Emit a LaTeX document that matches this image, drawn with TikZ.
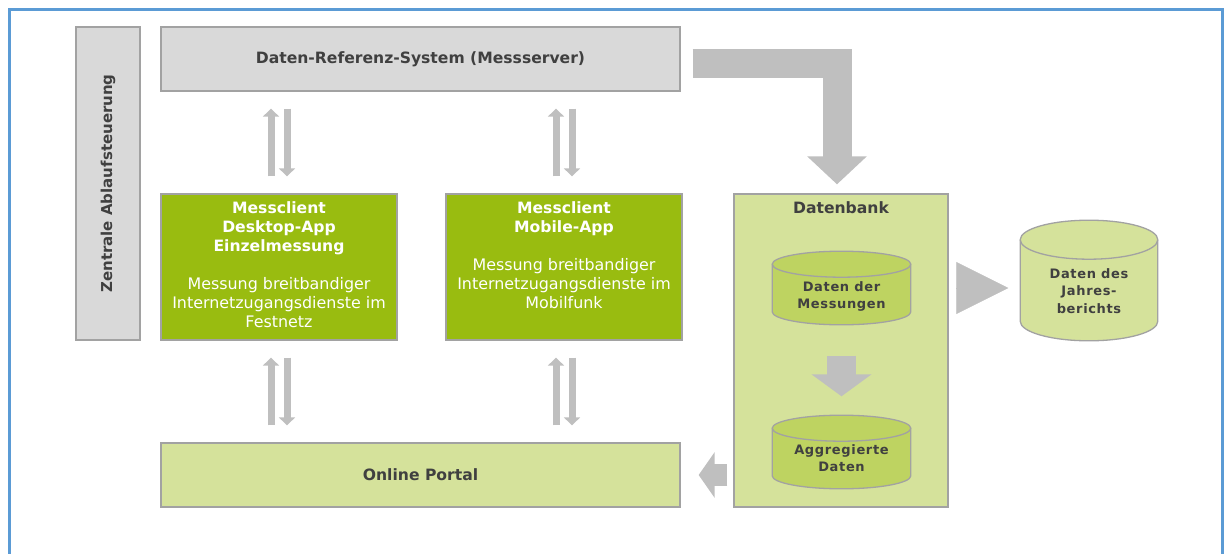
\documentclass[tikz,border=0pt]{standalone}
\usepackage{fontspec}
\setmainfont{DejaVu Sans}
\usetikzlibrary{positioning,arrows.meta,calc}

\definecolor{frameblue}{RGB}{91,155,213}
\definecolor{boxgray}{RGB}{217,217,217}
\definecolor{edgegray}{RGB}{162,162,162}
\definecolor{arrgray}{RGB}{191,191,191}
\definecolor{leafgreen}{RGB}{153,188,16}
\definecolor{palegreen}{RGB}{213,226,155}
\definecolor{cylgreen}{RGB}{190,211,97}
\definecolor{txtgray}{RGB}{64,64,64}

\newcommand{\headfont}{\bfseries\fontsize{15.6}{19}\selectfont}
\newcommand{\bodyfont}{\mdseries\fontsize{15.9}{19}\selectfont}
\newcommand{\cylfont}{\bfseries\fontsize{13}{17.3}\selectfont\addfontfeatures{LetterSpace=5}}

\tikzset{
  graybox/.style={draw=edgegray, line width=1.3pt, fill=boxgray, inner sep=0pt, text=txtgray, font=\headfont},
  greenbox/.style={draw=edgegray, line width=1.3pt, fill=leafgreen, inner sep=0pt},
  lightbox/.style={draw=edgegray, line width=1.3pt, fill=palegreen, inner sep=0pt, text=txtgray, font=\headfont},
  boxhead/.style={anchor=north, text=white, align=center, font=\headfont, yshift=-5pt},
  %width, height, end radius, fill
  drum/.style n args={4}{minimum width=#1, minimum height=#2, inner sep=0pt, text=txtgray, align=center, font=\cylfont,
    path picture={
      \path[draw=edgegray, fill=#4, line width=1.3pt]
        ([shift={(0.7pt,-#3-0.7pt)}]path picture bounding box.north west)
        -- ([shift={(0.7pt,#3+0.7pt)}]path picture bounding box.south west)
        arc[start angle=180, end angle=360, x radius=#1/2-0.7pt, y radius=#3]
        -- ([shift={(-0.7pt,-#3-0.7pt)}]path picture bounding box.north east)
        arc[start angle=0, end angle=180, x radius=#1/2-0.7pt, y radius=#3] -- cycle;
      \draw[edgegray, line width=1.3pt] ([shift={(0.7pt,-#3-0.7pt)}]path picture bounding box.north west)
        arc[start angle=180, end angle=360, x radius=#1/2-0.7pt, y radius=#3];
    }},
  thinup/.style={arrgray, line width=7pt, -{Triangle[width=16pt,length=8pt]}, shorten <=17pt, shorten >=17pt},
  blockarr/.style={arrgray, line join=miter}
}

\begin{document}
\begin{tikzpicture}[x=1pt,y=-1pt]
\useasboundingbox (0,0) rectangle (1229,554);
%the frame
\draw[frameblue, line width=3pt] (9.5,554) -- (9.5,9.5) -- (1222.5,9.5) -- (1222.5,554);

%the boxes on the left
\node[graybox, minimum width=64pt, minimum height=313pt] (ctrl) at (108,183.5) {};
\node[font=\bfseries\fontsize{15}{19}\selectfont, text=txtgray, rotate=90] (ctrltxt) at (ctrl.center) {Zentrale Ablaufsteuerung};
\node[graybox, minimum width=519pt, minimum height=64pt] (drs) at (420.5,59) {Daten-Referenz-System (Messserver)};
\node[greenbox, minimum width=236pt, minimum height=146pt,
  label={[boxhead]north:{Messclient\\ Desktop-App\\ Einzelmessung\\[19pt] \bodyfont Messung breitbandiger\\ \bodyfont Internetzugangsdienste im\\ \bodyfont Festnetz}}] (desk) at (279,267) {};
\node[greenbox, minimum width=236pt, minimum height=146pt,
  label={[boxhead]north:{Messclient\\ Mobile-App\\[19pt] \bodyfont Messung breitbandiger\\ \bodyfont Internetzugangsdienste im\\ \bodyfont Mobilfunk}}] (mob) at (564,267) {};
\node[lightbox, minimum width=519pt, minimum height=64pt] (portal) at (420.5,475) {Online Portal};

%the database
\node[lightbox, minimum width=214pt, minimum height=313pt,
  label={[anchor=north, text=txtgray, font=\headfont, yshift=-5pt]north:Datenbank}] (db) at (841,350.5) {};
\node[drum={140pt}{75pt}{13pt}{cylgreen}, text height=44pt, text depth=3pt] (mess) at (841.5,288) {Daten der\\ Messungen};
\node[drum={140pt}{75pt}{13pt}{cylgreen}, text height=42pt, text depth=3pt] (agg) at (841.5,452) {Aggregierte\\ Daten};
\node[drum={139pt}{122pt}{19.5pt}{palegreen}, text height=68pt, text depth=3pt] (jahr) at (1089,280.5) {Daten des\\ Jahres-\\ berichts};

%the thin arrows
\foreach \top/\bot in {drs/desk, desk/portal} {
  \draw[thinup] ([shift={(-8,0)}]\bot.north -| desk.south) -- ([shift={(-8,0)}]\top.south -| desk.north);
  \draw[thinup] ([shift={(8,0)}]\top.south -| desk.north) -- ([shift={(8,0)}]\bot.north -| desk.south);
}
\foreach \top/\bot in {drs/mob, mob/portal} {
  \draw[thinup] ([shift={(-8,0)}]\bot.north -| mob.south) -- ([shift={(-8,0)}]\top.south -| mob.north);
  \draw[thinup] ([shift={(8,0)}]\top.south -| mob.north) -- ([shift={(8,0)}]\bot.north -| mob.south);
}

%the block arrows
\draw[blockarr, line width=29pt, -{Triangle[width=58pt,length=28pt]}, shorten >=9pt]
  ([shift={(12,4.5)}]drs.east) -| ([shift={(-4,0)}]db.north);
\draw[blockarr, line width=29pt, -{Triangle[width=59pt,length=22pt]}, shorten <=30pt, shorten >=18pt]
  (mess.south) -- (agg.north);
\draw[blockarr, line width=22pt, -{Triangle[width=45pt,length=16pt]}, shorten <=6pt, shorten >=18pt]
  (db.west |- portal.east) -- (portal.east);
\draw[blockarr, line width=0.5pt, -{Triangle[width=52pt,length=52pt]}, shorten <=9pt, shorten >=11pt]
  (db.east |- mess.center) -- (jahr.west |- mess.center);
\end{tikzpicture}
\end{document}
